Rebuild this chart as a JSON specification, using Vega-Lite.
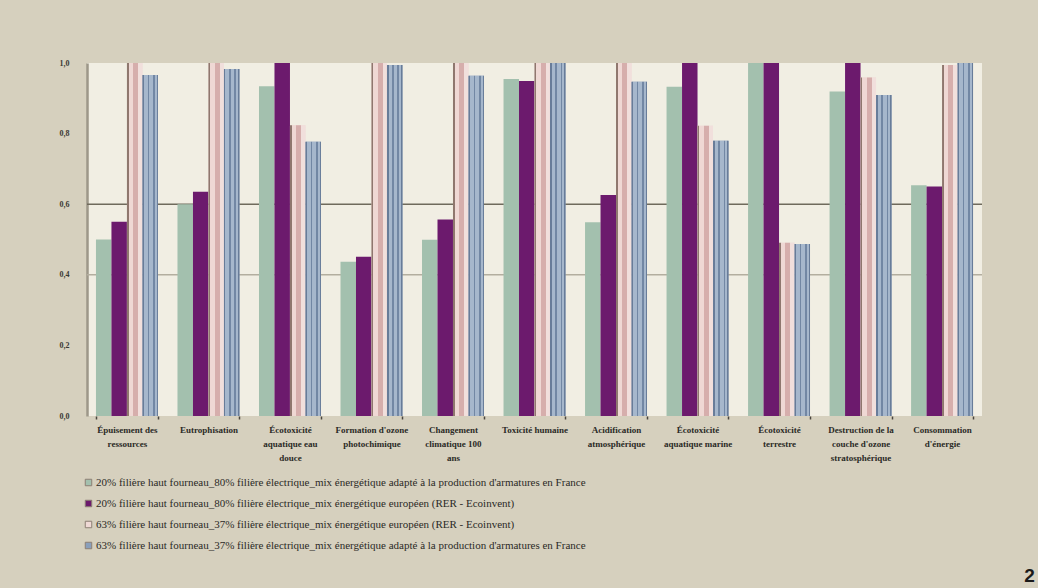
{
  "$schema": "https://vega.github.io/schema/vega-lite/v6.json",
  "width": 895,
  "height": 353,
  "autosize": {"type": "none"},
  "padding": {"left": 87, "top": 63, "right": 56, "bottom": 172},
  "background": "#d6d0be",
  "config": {
    "view": {"fill": "#f1eee3", "stroke": null},
    "font": "Liberation Serif"
  },
  "title": {
    "text": "2",
    "orient": "bottom",
    "anchor": "end",
    "font": "Liberation Sans",
    "fontWeight": "bold",
    "fontSize": 19,
    "color": "#1a1a1a",
    "dx": 52,
    "offset": 16
  },
  "datasets": {
    "impacts": [
      {"cat": "Épuisement des\nressources", "serie": "A", "v": 0.50},
      {"cat": "Épuisement des\nressources", "serie": "B", "v": 0.55},
      {"cat": "Épuisement des\nressources", "serie": "C", "v": 1.0},
      {"cat": "Épuisement des\nressources", "serie": "D", "v": 0.966},
      {"cat": "Eutrophisation", "serie": "A", "v": 0.60},
      {"cat": "Eutrophisation", "serie": "B", "v": 0.635},
      {"cat": "Eutrophisation", "serie": "C", "v": 1.0},
      {"cat": "Eutrophisation", "serie": "D", "v": 0.983},
      {"cat": "Écotoxicité\naquatique eau\ndouce", "serie": "A", "v": 0.934},
      {"cat": "Écotoxicité\naquatique eau\ndouce", "serie": "B", "v": 1.0},
      {"cat": "Écotoxicité\naquatique eau\ndouce", "serie": "C", "v": 0.824},
      {"cat": "Écotoxicité\naquatique eau\ndouce", "serie": "D", "v": 0.777},
      {"cat": "Formation d'ozone\nphotochimique", "serie": "A", "v": 0.437},
      {"cat": "Formation d'ozone\nphotochimique", "serie": "B", "v": 0.451},
      {"cat": "Formation d'ozone\nphotochimique", "serie": "C", "v": 1.0},
      {"cat": "Formation d'ozone\nphotochimique", "serie": "D", "v": 0.994},
      {"cat": "Changement\nclimatique 100\nans", "serie": "A", "v": 0.499},
      {"cat": "Changement\nclimatique 100\nans", "serie": "B", "v": 0.557},
      {"cat": "Changement\nclimatique 100\nans", "serie": "C", "v": 1.0},
      {"cat": "Changement\nclimatique 100\nans", "serie": "D", "v": 0.964},
      {"cat": "Toxicité humaine", "serie": "A", "v": 0.955},
      {"cat": "Toxicité humaine", "serie": "B", "v": 0.949},
      {"cat": "Toxicité humaine", "serie": "C", "v": 1.0},
      {"cat": "Toxicité humaine", "serie": "D", "v": 1.0},
      {"cat": "Acidification\natmosphérique", "serie": "A", "v": 0.549},
      {"cat": "Acidification\natmosphérique", "serie": "B", "v": 0.626},
      {"cat": "Acidification\natmosphérique", "serie": "C", "v": 1.0},
      {"cat": "Acidification\natmosphérique", "serie": "D", "v": 0.947},
      {"cat": "Écotoxicité\naquatique marine", "serie": "A", "v": 0.933},
      {"cat": "Écotoxicité\naquatique marine", "serie": "B", "v": 1.0},
      {"cat": "Écotoxicité\naquatique marine", "serie": "C", "v": 0.822},
      {"cat": "Écotoxicité\naquatique marine", "serie": "D", "v": 0.78},
      {"cat": "Écotoxicité\nterrestre", "serie": "A", "v": 1.0},
      {"cat": "Écotoxicité\nterrestre", "serie": "B", "v": 1.0},
      {"cat": "Écotoxicité\nterrestre", "serie": "C", "v": 0.491},
      {"cat": "Écotoxicité\nterrestre", "serie": "D", "v": 0.487},
      {"cat": "Destruction de la\ncouche d'ozone\nstratosphérique", "serie": "A", "v": 0.919},
      {"cat": "Destruction de la\ncouche d'ozone\nstratosphérique", "serie": "B", "v": 1.0},
      {"cat": "Destruction de la\ncouche d'ozone\nstratosphérique", "serie": "C", "v": 0.959},
      {"cat": "Destruction de la\ncouche d'ozone\nstratosphérique", "serie": "D", "v": 0.909},
      {"cat": "Consommation\nd'énergie", "serie": "A", "v": 0.654},
      {"cat": "Consommation\nd'énergie", "serie": "B", "v": 0.65},
      {"cat": "Consommation\nd'énergie", "serie": "C", "v": 0.994},
      {"cat": "Consommation\nd'énergie", "serie": "D", "v": 1.0}
    ]
  },
  "layer": [
    {
      "data": {"values": [{"y": 0.4}]},
      "mark": {"type": "rule", "color": "#b3ae9f", "strokeWidth": 1.5},
      "encoding": {"y": {"field": "y", "type": "quantitative", "title": null}}
    },
    {
      "data": {"values": [{"y": 0.6}]},
      "mark": {"type": "rule", "color": "#6f6a5c", "strokeWidth": 1.5},
      "encoding": {"y": {"field": "y", "type": "quantitative", "title": null}}
    },
    {
      "data": {"name": "impacts"},
      "mark": {"type": "bar"},
      "encoding": {
        "x": {
          "field": "cat",
          "type": "nominal",
          "sort": null,
          "scale": {"paddingInner": 0.24, "paddingOuter": 0.11},
          "axis": {
            "title": null,
            "domain": false,
            "ticks": true,
            "tickBand": "extent",
            "tickSize": 3,
            "tickWidth": 1.5,
            "tickColor": "#4a463e",
            "labelAngle": 0,
            "labelExpr": "split(datum.label, '\\n')",
            "labelFont": "Liberation Serif",
            "labelFontWeight": "bold",
            "labelFontSize": 9,
            "labelColor": "#2b2a26",
            "labelLineHeight": 14,
            "labelBaseline": "top",
            "labelPadding": 6,
            "labelLimit": 120,
            "labelOverlap": false
          }
        },
        "xOffset": {"field": "serie", "type": "nominal", "scale": {"domain": ["A", "B", "C", "D"]}},
        "y": {
          "field": "v",
          "type": "quantitative",
          "title": null,
          "scale": {"domain": [0, 1], "nice": false},
          "axis": {
            "values": [0, 0.2, 0.4, 0.6, 0.8, 1.0],
            "labelExpr": "replace(format(datum.value, '.1f'), '.', ',')",
            "grid": false,
            "ticks": false,
            "domainColor": "#9d9789",
            "domainWidth": 2.5,
            "labelFont": "Liberation Serif",
            "labelFontWeight": "bold",
            "labelFontSize": 8,
            "labelColor": "#3a3833",
            "labelPadding": 18
          }
        },
        "color": {
          "field": "serie",
          "type": "nominal",
          "scale": {
            "domain": ["A", "B", "C", "D"],
            "range": ["#a3c0ae", "#6c1a6d", "#efd9d5", "#8a9fbb"]
          },
          "legend": {
            "title": null,
            "orient": "none",
            "legendX": -4,
            "legendY": 414,
            "direction": "vertical",
            "symbolType": "square",
            "symbolSize": 42,
            "symbolStrokeWidth": 1,
            "symbolStrokeColor": "#8c7f74",
            "rowPadding": 9,
            "labelFont": "Liberation Serif",
            "labelFontSize": 11,
            "labelColor": "#2b2a26",
            "labelOffset": 2,
            "labelLimit": 700,
            "labelExpr": "datum.value == 'A' ? '20% filière haut fourneau_80% filière électrique_mix énergétique adapté à la production d\\'armatures en France' : datum.value == 'B' ? '20% filière haut fourneau_80% filière électrique_mix énergétique européen (RER - Ecoinvent)' : datum.value == 'C' ? '63% filière haut fourneau_37% filière électrique_mix énergétique européen (RER - Ecoinvent)' : '63% filière haut fourneau_37% filière électrique_mix énergétique adapté à la production d\\'armatures en France'"
          }
        }
      }
    },
    {
      "data": {"name": "impacts"},
      "transform": [{"filter": "datum.serie == 'C'"}],
      "mark": {
        "type": "bar",
        "fill": {
          "gradient": "linear",
          "x1": 0, "y1": 0, "x2": 1, "y2": 0,
          "stops": [
            {"offset": 0, "color": "#8f776e"},
            {"offset": 0.12, "color": "#8f776e"},
            {"offset": 0.12, "color": "#efd8d4"},
            {"offset": 0.4, "color": "#efd8d4"},
            {"offset": 0.4, "color": "#d6aeac"},
            {"offset": 0.72, "color": "#d6aeac"},
            {"offset": 0.72, "color": "#f1dfdc"},
            {"offset": 1, "color": "#f1dfdc"}
          ]
        }
      },
      "encoding": {
        "x": {"field": "cat", "type": "nominal", "sort": null},
        "xOffset": {"field": "serie", "type": "nominal"},
        "y": {"field": "v", "type": "quantitative", "title": null}
      }
    },
    {
      "data": {"name": "impacts"},
      "transform": [{"filter": "datum.serie == 'D'"}],
      "mark": {
        "type": "bar",
        "fill": {
          "gradient": "linear",
          "x1": 0, "y1": 0, "x2": 1, "y2": 0,
          "stops": [
            {"offset": 0, "color": "#687c99"},
            {"offset": 0.1, "color": "#687c99"},
            {"offset": 0.1, "color": "#a6b7cc"},
            {"offset": 0.34, "color": "#a6b7cc"},
            {"offset": 0.34, "color": "#7287a4"},
            {"offset": 0.44, "color": "#7287a4"},
            {"offset": 0.44, "color": "#a6b7cc"},
            {"offset": 0.68, "color": "#a6b7cc"},
            {"offset": 0.68, "color": "#7287a4"},
            {"offset": 0.78, "color": "#7287a4"},
            {"offset": 0.78, "color": "#a6b7cc"},
            {"offset": 0.92, "color": "#a6b7cc"},
            {"offset": 0.92, "color": "#687c99"},
            {"offset": 1, "color": "#687c99"}
          ]
        }
      },
      "encoding": {
        "x": {"field": "cat", "type": "nominal", "sort": null},
        "xOffset": {"field": "serie", "type": "nominal"},
        "y": {"field": "v", "type": "quantitative", "title": null}
      }
    }
  ]
}
